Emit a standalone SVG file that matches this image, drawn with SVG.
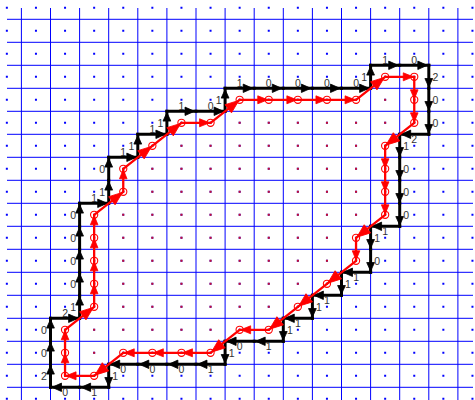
<svg xmlns="http://www.w3.org/2000/svg" width="475" height="400" viewBox="0 0 475 400">
<style>
.grid{stroke:#0000ff;stroke-width:1;fill:none}
.dotb{stroke:#0000ff;stroke-width:2;stroke-dasharray:2 27.1}
.dotr{stroke:#c8102e;stroke-width:2;stroke-dasharray:2 27.1}
.b{stroke:#000;stroke-width:3;stroke-linecap:square}
.bh{marker-end:url(#mbh)}
.bv{marker-end:url(#mbv)}
.r{stroke:#ff0000;stroke-width:2.3;stroke-linecap:round}
.rh{marker-end:url(#mrh)}
.rv{marker-end:url(#mrv)}
.rd{marker-end:url(#mrd)}
.c{fill:none;stroke:#ff0000;stroke-width:1.1}
text{font-family:"Liberation Sans",Arial,sans-serif;font-size:10.5px;fill:#333;text-anchor:middle}
</style>
<defs>
<marker id="mbh" markerUnits="userSpaceOnUse" orient="auto" overflow="visible" markerWidth="1" markerHeight="1" refX="0" refY="0"><path d="M-1.5 0L-11 -4.2L-11 4.2Z" fill="#000" stroke="#000" stroke-width="0.8" stroke-linejoin="round"/></marker>
<marker id="mbv" markerUnits="userSpaceOnUse" orient="auto" overflow="visible" markerWidth="1" markerHeight="1" refX="0" refY="0"><path d="M-1.2 0L-9.8 -3.9L-9.8 3.9Z" fill="#000" stroke="#000" stroke-width="0.8" stroke-linejoin="round"/></marker>
<marker id="mrh" markerUnits="userSpaceOnUse" orient="auto" overflow="visible" markerWidth="1" markerHeight="1" refX="0" refY="0"><path d="M-1 0L-11 -4L-11 4Z" fill="#ff0000" stroke="#ff0000" stroke-width="0.8" stroke-linejoin="round"/></marker>
<marker id="mrv" markerUnits="userSpaceOnUse" orient="auto" overflow="visible" markerWidth="1" markerHeight="1" refX="0" refY="0"><path d="M-0.8 0L-10 -3.8L-10 3.8Z" fill="#ff0000" stroke="#ff0000" stroke-width="0.8" stroke-linejoin="round"/></marker>
<marker id="mrd" markerUnits="userSpaceOnUse" orient="auto" overflow="visible" markerWidth="1" markerHeight="1" refX="0" refY="0"><path d="M-1 0L-14.5 -5.2L-14.5 5.2Z" fill="#ff0000" stroke="#ff0000" stroke-width="0.8" stroke-linejoin="round"/></marker>
</defs>
<rect width="475" height="400" fill="#fff"/>
<g id="grid">
<path class="grid" d="M21.4 8V400M50.5 8V400M79.6 8V400M108.7 8V400M137.8 8V400M166.9 8V400M196 8V400M225.1 8V400M254.2 8V400M283.3 8V400M312.4 8V400M341.5 8V400M370.6 8V400M399.7 8V400M428.8 8V400M457.9 8V400"/>
<path class="grid" d="M7 19.3H473M7 42.3H473M7 65.3H473M7 88.3H473M7 111.3H473M7 134.3H473M7 157.3H473M7 180.3H473M7 203.3H473M7 226.3H473M7 249.3H473M7 272.3H473M7 295.3H473M7 318.3H473M7 341.3H473M7 364.3H473M7 387.3H473"/>
</g>
<g id="dots">
<line class="dotb" x1="5.85" y1="7.8" x2="475" y2="7.8"/>
<line class="dotb" x1="5.85" y1="30.8" x2="475" y2="30.8"/>
<line class="dotb" x1="5.85" y1="53.8" x2="475" y2="53.8"/>
<line class="dotb" x1="5.85" y1="76.8" x2="475" y2="76.8"/>
<line class="dotb" x1="5.85" y1="99.8" x2="475" y2="99.8"/>
<line class="dotb" x1="5.85" y1="122.8" x2="475" y2="122.8"/>
<line class="dotb" x1="5.85" y1="145.8" x2="475" y2="145.8"/>
<line class="dotb" x1="5.85" y1="168.8" x2="475" y2="168.8"/>
<line class="dotb" x1="5.85" y1="191.8" x2="475" y2="191.8"/>
<line class="dotb" x1="5.85" y1="214.8" x2="475" y2="214.8"/>
<line class="dotb" x1="5.85" y1="237.8" x2="475" y2="237.8"/>
<line class="dotb" x1="5.85" y1="260.8" x2="475" y2="260.8"/>
<line class="dotb" x1="5.85" y1="283.8" x2="475" y2="283.8"/>
<line class="dotb" x1="5.85" y1="306.8" x2="475" y2="306.8"/>
<line class="dotb" x1="5.85" y1="329.8" x2="475" y2="329.8"/>
<line class="dotb" x1="5.85" y1="352.8" x2="475" y2="352.8"/>
<line class="dotb" x1="5.85" y1="375.8" x2="475" y2="375.8"/>
<line class="dotb" x1="5.85" y1="398.8" x2="475" y2="398.8"/>
<line class="dotr" x1="384.15" y1="99.8" x2="386.15" y2="99.8"/>
<line class="dotr" x1="238.65" y1="122.8" x2="386.15" y2="122.8"/>
<line class="dotr" x1="180.45" y1="145.8" x2="357.05" y2="145.8"/>
<line class="dotr" x1="151.35" y1="168.8" x2="357.05" y2="168.8"/>
<line class="dotr" x1="151.35" y1="191.8" x2="357.05" y2="191.8"/>
<line class="dotr" x1="122.25" y1="214.8" x2="357.05" y2="214.8"/>
<line class="dotr" x1="122.25" y1="237.8" x2="327.95" y2="237.8"/>
<line class="dotr" x1="122.25" y1="260.8" x2="327.95" y2="260.8"/>
<line class="dotr" x1="122.25" y1="283.8" x2="298.85" y2="283.8"/>
<line class="dotr" x1="122.25" y1="306.8" x2="269.75" y2="306.8"/>
<line class="dotr" x1="93.15" y1="329.8" x2="211.55" y2="329.8"/>
<line class="dotr" x1="93.15" y1="352.8" x2="95.15" y2="352.8"/>
</g>
<g id="connectors">
<g id="black-chain" class="b">
<line class="bv" x1="50.5" y1="387.3" x2="50.5" y2="364.3"/>
<line class="bv" x1="50.5" y1="364.3" x2="50.5" y2="341.3"/>
<line class="bv" x1="50.5" y1="341.3" x2="50.5" y2="318.3"/>
<line class="bh" x1="50.5" y1="318.3" x2="79.6" y2="318.3"/>
<line class="bv" x1="79.6" y1="318.3" x2="79.6" y2="295.3"/>
<line class="bv" x1="79.6" y1="295.3" x2="79.6" y2="272.3"/>
<line class="bv" x1="79.6" y1="272.3" x2="79.6" y2="249.3"/>
<line class="bv" x1="79.6" y1="249.3" x2="79.6" y2="226.3"/>
<line class="bv" x1="79.6" y1="226.3" x2="79.6" y2="203.3"/>
<line class="bh" x1="79.6" y1="203.3" x2="108.7" y2="203.3"/>
<line class="bv" x1="108.7" y1="203.3" x2="108.7" y2="180.3"/>
<line class="bv" x1="108.7" y1="180.3" x2="108.7" y2="157.3"/>
<line class="bh" x1="108.7" y1="157.3" x2="137.8" y2="157.3"/>
<line class="bv" x1="137.8" y1="157.3" x2="137.8" y2="134.3"/>
<line class="bh" x1="137.8" y1="134.3" x2="166.9" y2="134.3"/>
<line class="bv" x1="166.9" y1="134.3" x2="166.9" y2="111.3"/>
<line class="bh" x1="166.9" y1="111.3" x2="196" y2="111.3"/>
<line class="bh" x1="196" y1="111.3" x2="225.1" y2="111.3"/>
<line class="bv" x1="225.1" y1="111.3" x2="225.1" y2="88.3"/>
<line class="bh" x1="225.1" y1="88.3" x2="254.2" y2="88.3"/>
<line class="bh" x1="254.2" y1="88.3" x2="283.3" y2="88.3"/>
<line class="bh" x1="283.3" y1="88.3" x2="312.4" y2="88.3"/>
<line class="bh" x1="312.4" y1="88.3" x2="341.5" y2="88.3"/>
<line class="bh" x1="341.5" y1="88.3" x2="370.6" y2="88.3"/>
<line class="bv" x1="370.6" y1="88.3" x2="370.6" y2="65.3"/>
<line class="bh" x1="370.6" y1="65.3" x2="399.7" y2="65.3"/>
<line class="bh" x1="399.7" y1="65.3" x2="428.8" y2="65.3"/>
<line class="bv" x1="428.8" y1="65.3" x2="428.8" y2="88.3"/>
<line class="bv" x1="428.8" y1="88.3" x2="428.8" y2="111.3"/>
<line class="bv" x1="428.8" y1="111.3" x2="428.8" y2="134.3"/>
<line class="bh" x1="428.8" y1="134.3" x2="399.7" y2="134.3"/>
<line class="bv" x1="399.7" y1="134.3" x2="399.7" y2="157.3"/>
<line class="bv" x1="399.7" y1="157.3" x2="399.7" y2="180.3"/>
<line class="bv" x1="399.7" y1="180.3" x2="399.7" y2="203.3"/>
<line class="bv" x1="399.7" y1="203.3" x2="399.7" y2="226.3"/>
<line class="bh" x1="399.7" y1="226.3" x2="370.6" y2="226.3"/>
<line class="bv" x1="370.6" y1="226.3" x2="370.6" y2="249.3"/>
<line class="bv" x1="370.6" y1="249.3" x2="370.6" y2="272.3"/>
<line class="bh" x1="370.6" y1="272.3" x2="341.5" y2="272.3"/>
<line class="bv" x1="341.5" y1="272.3" x2="341.5" y2="295.3"/>
<line class="bh" x1="341.5" y1="295.3" x2="312.4" y2="295.3"/>
<line class="bv" x1="312.4" y1="295.3" x2="312.4" y2="318.3"/>
<line class="bh" x1="312.4" y1="318.3" x2="283.3" y2="318.3"/>
<line class="bv" x1="283.3" y1="318.3" x2="283.3" y2="341.3"/>
<line class="bh" x1="283.3" y1="341.3" x2="254.2" y2="341.3"/>
<line class="bh" x1="254.2" y1="341.3" x2="225.1" y2="341.3"/>
<line class="bv" x1="225.1" y1="341.3" x2="225.1" y2="364.3"/>
<line class="bh" x1="225.1" y1="364.3" x2="196" y2="364.3"/>
<line class="bh" x1="196" y1="364.3" x2="166.9" y2="364.3"/>
<line class="bh" x1="166.9" y1="364.3" x2="137.8" y2="364.3"/>
<line class="bh" x1="137.8" y1="364.3" x2="108.7" y2="364.3"/>
<line class="bv" x1="108.7" y1="364.3" x2="108.7" y2="387.3"/>
<line class="bh" x1="108.7" y1="387.3" x2="79.6" y2="387.3"/>
<line class="bh" x1="79.6" y1="387.3" x2="50.5" y2="387.3"/>
</g>
<g id="red-chain" class="r">
<line class="rv" x1="65.05" y1="375.8" x2="65.05" y2="352.8"/>
<line class="rv" x1="65.05" y1="352.8" x2="65.05" y2="329.8"/>
<line class="rd" x1="65.05" y1="329.8" x2="94.15" y2="306.8"/>
<line class="rv" x1="94.15" y1="306.8" x2="94.15" y2="283.8"/>
<line class="rv" x1="94.15" y1="283.8" x2="94.15" y2="260.8"/>
<line class="rv" x1="94.15" y1="260.8" x2="94.15" y2="237.8"/>
<line class="rv" x1="94.15" y1="237.8" x2="94.15" y2="214.8"/>
<line class="rd" x1="94.15" y1="214.8" x2="123.25" y2="191.8"/>
<line class="rv" x1="123.25" y1="191.8" x2="123.25" y2="168.8"/>
<line class="rd" x1="123.25" y1="168.8" x2="152.35" y2="145.8"/>
<line class="rd" x1="152.35" y1="145.8" x2="181.45" y2="122.8"/>
<line class="rh" x1="181.45" y1="122.8" x2="210.55" y2="122.8"/>
<line class="rd" x1="210.55" y1="122.8" x2="239.65" y2="99.8"/>
<line class="rh" x1="239.65" y1="99.8" x2="268.75" y2="99.8"/>
<line class="rh" x1="268.75" y1="99.8" x2="297.85" y2="99.8"/>
<line class="rh" x1="297.85" y1="99.8" x2="326.95" y2="99.8"/>
<line class="rh" x1="326.95" y1="99.8" x2="356.05" y2="99.8"/>
<line class="rd" x1="356.05" y1="99.8" x2="385.15" y2="76.8"/>
<line class="rh" x1="385.15" y1="76.8" x2="414.25" y2="76.8"/>
<line class="rv" x1="414.25" y1="76.8" x2="414.25" y2="99.8"/>
<line class="rv" x1="414.25" y1="99.8" x2="414.25" y2="122.8"/>
<line class="rd" x1="414.25" y1="122.8" x2="385.15" y2="145.8"/>
<line class="rv" x1="385.15" y1="145.8" x2="385.15" y2="168.8"/>
<line class="rv" x1="385.15" y1="168.8" x2="385.15" y2="191.8"/>
<line class="rv" x1="385.15" y1="191.8" x2="385.15" y2="214.8"/>
<line class="rd" x1="385.15" y1="214.8" x2="356.05" y2="237.8"/>
<line class="rv" x1="356.05" y1="237.8" x2="356.05" y2="260.8"/>
<line class="rd" x1="356.05" y1="260.8" x2="326.95" y2="283.8"/>
<line class="rd" x1="326.95" y1="283.8" x2="297.85" y2="306.8"/>
<line class="rd" x1="297.85" y1="306.8" x2="268.75" y2="329.8"/>
<line class="rh" x1="268.75" y1="329.8" x2="239.65" y2="329.8"/>
<line class="rd" x1="239.65" y1="329.8" x2="210.55" y2="352.8"/>
<line class="rh" x1="210.55" y1="352.8" x2="181.45" y2="352.8"/>
<line class="rh" x1="181.45" y1="352.8" x2="152.35" y2="352.8"/>
<line class="rh" x1="152.35" y1="352.8" x2="123.25" y2="352.8"/>
<line class="rd" x1="123.25" y1="352.8" x2="94.15" y2="375.8"/>
<line class="rh" x1="94.15" y1="375.8" x2="65.05" y2="375.8"/>
</g>
</g>
<g id="nodes" class="c">
<circle id="n0" cx="65.05" cy="375.8" r="3.6"/>
<circle id="n1" cx="65.05" cy="352.8" r="3.6"/>
<circle id="n2" cx="65.05" cy="329.8" r="3.6"/>
<circle id="n3" cx="94.15" cy="306.8" r="3.6"/>
<circle id="n4" cx="94.15" cy="283.8" r="3.6"/>
<circle id="n5" cx="94.15" cy="260.8" r="3.6"/>
<circle id="n6" cx="94.15" cy="237.8" r="3.6"/>
<circle id="n7" cx="94.15" cy="214.8" r="3.6"/>
<circle id="n8" cx="123.25" cy="191.8" r="3.6"/>
<circle id="n9" cx="123.25" cy="168.8" r="3.6"/>
<circle id="n10" cx="152.35" cy="145.8" r="3.6"/>
<circle id="n11" cx="181.45" cy="122.8" r="3.6"/>
<circle id="n12" cx="210.55" cy="122.8" r="3.6"/>
<circle id="n13" cx="239.65" cy="99.8" r="3.6"/>
<circle id="n14" cx="268.75" cy="99.8" r="3.6"/>
<circle id="n15" cx="297.85" cy="99.8" r="3.6"/>
<circle id="n16" cx="326.95" cy="99.8" r="3.6"/>
<circle id="n17" cx="356.05" cy="99.8" r="3.6"/>
<circle id="n18" cx="385.15" cy="76.8" r="3.6"/>
<circle id="n19" cx="414.25" cy="76.8" r="3.6"/>
<circle id="n20" cx="414.25" cy="99.8" r="3.6"/>
<circle id="n21" cx="414.25" cy="122.8" r="3.6"/>
<circle id="n22" cx="385.15" cy="145.8" r="3.6"/>
<circle id="n23" cx="385.15" cy="168.8" r="3.6"/>
<circle id="n24" cx="385.15" cy="191.8" r="3.6"/>
<circle id="n25" cx="385.15" cy="214.8" r="3.6"/>
<circle id="n26" cx="356.05" cy="237.8" r="3.6"/>
<circle id="n27" cx="356.05" cy="260.8" r="3.6"/>
<circle id="n28" cx="326.95" cy="283.8" r="3.6"/>
<circle id="n29" cx="297.85" cy="306.8" r="3.6"/>
<circle id="n30" cx="268.75" cy="329.8" r="3.6"/>
<circle id="n31" cx="239.65" cy="329.8" r="3.6"/>
<circle id="n32" cx="210.55" cy="352.8" r="3.6"/>
<circle id="n33" cx="181.45" cy="352.8" r="3.6"/>
<circle id="n34" cx="152.35" cy="352.8" r="3.6"/>
<circle id="n35" cx="123.25" cy="352.8" r="3.6"/>
<circle id="n36" cx="94.15" cy="375.8" r="3.6"/>
</g>
<g id="labels">
<text x="44" y="379.6">2</text>
<text x="44" y="356.6">0</text>
<text x="44" y="333.6">0</text>
<text x="65.05" y="317.1">2</text>
<text x="73.1" y="310.6">1</text>
<text x="73.1" y="287.6">0</text>
<text x="73.1" y="264.6">0</text>
<text x="73.1" y="241.6">0</text>
<text x="73.1" y="218.6">0</text>
<text x="94.15" y="202.1">1</text>
<text x="102.2" y="195.6">1</text>
<text x="102.2" y="172.6">0</text>
<text x="123.25" y="156.1">1</text>
<text x="131.3" y="149.6">1</text>
<text x="152.35" y="133.1">1</text>
<text x="160.4" y="126.6">1</text>
<text x="181.45" y="110.1">1</text>
<text x="210.55" y="110.1">0</text>
<text x="218.6" y="103.6">1</text>
<text x="239.65" y="87.1">1</text>
<text x="268.75" y="87.1">0</text>
<text x="297.85" y="87.1">0</text>
<text x="326.95" y="87.1">0</text>
<text x="356.05" y="87.1">0</text>
<text x="364.1" y="80.6">1</text>
<text x="385.15" y="64.1">1</text>
<text x="414.25" y="64.1">0</text>
<text x="435.3" y="80.6">2</text>
<text x="435.3" y="103.6">0</text>
<text x="435.3" y="126.6">0</text>
<text x="414.25" y="143.1">2</text>
<text x="406.2" y="149.6">1</text>
<text x="406.2" y="172.6">0</text>
<text x="406.2" y="195.6">0</text>
<text x="406.2" y="218.6">0</text>
<text x="385.15" y="235.1">1</text>
<text x="377.1" y="241.6">1</text>
<text x="377.1" y="264.6">0</text>
<text x="356.05" y="281.1">1</text>
<text x="348" y="287.6">1</text>
<text x="326.95" y="304.1">1</text>
<text x="318.9" y="310.6">1</text>
<text x="297.85" y="327.1">1</text>
<text x="289.8" y="333.6">1</text>
<text x="268.75" y="350.1">1</text>
<text x="239.65" y="350.1">0</text>
<text x="231.6" y="356.6">1</text>
<text x="210.55" y="373.1">1</text>
<text x="181.45" y="373.1">0</text>
<text x="152.35" y="373.1">0</text>
<text x="123.25" y="373.1">0</text>
<text x="115.2" y="379.6">1</text>
<text x="94.15" y="396.1">1</text>
<text x="65.05" y="396.1">0</text>
</g>
</svg>
